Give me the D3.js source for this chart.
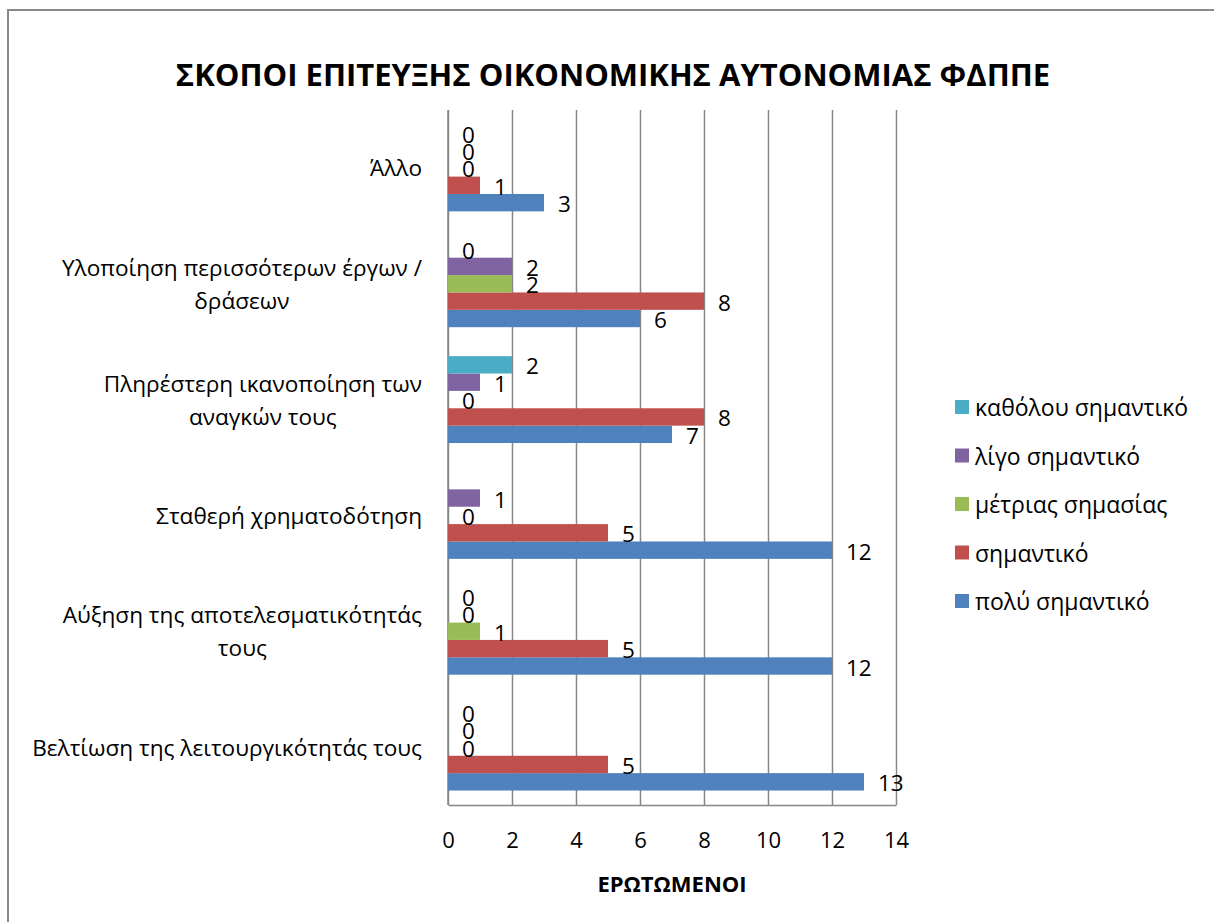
<!DOCTYPE html>
<html>
<head>
<meta charset="utf-8">
<script src="https://cdn.jsdelivr.net/npm/d3@7"></script>
<style>
  body { margin: 0; background: #fff; }
  svg text { font-family: "Open Sans", "Noto Sans", sans-serif; fill: #000; }
</style>
</head>
<body>
<div class="canvas"></div>
<script>
// categories, bottom to top as drawn ("\n" marks the wrap)
const categories = [
  'Βελτίωση της λειτουργικότητάς τους',
  'Αύξηση της αποτελεσματικότητάς\nτους',
  'Σταθερή χρηματοδότηση',
  'Πληρέστερη ικανοποίηση των\nαναγκών τους',
  'Υλοποίηση περισσότερων έργων /\nδράσεων',
  'Άλλο'
];

const seriesNames = ['πολύ σημαντικό', 'σημαντικό', 'μέτριας σημασίας', 'λίγο σημαντικό', 'καθόλου σημαντικό'];
const seriesColours = ['#4F81BD', '#C0504D', '#9BBB59', '#8064A2', '#4BACC6'];

// values per series, same order as categories (null = no value)
const polySimantiko    = [13, 12, 12, 7, 6, 3];
const simantiko        = [5, 5, 5, 8, 8, 1];
const metriasSimasias  = [0, 1, 0, 0, 2, 0];
const ligoSimantiko    = [0, 0, 1, 1, 2, 0];
const katholouSimantiko = [0, 0, null, 2, 0, 0];

const xTicks = [0, 2, 4, 6, 8, 10, 12, 14];

const seriesValues = [polySimantiko, simantiko, metriasSimasias, ligoSimantiko, katholouSimantiko];

const dims = { width: 1214, height: 922 };
const plot = { left: 448, right: 896, top: 110, bottom: 805 };

const svg = d3.select('.canvas')
  .append('svg')
  .attr('width', dims.width)
  .attr('height', dims.height);

// chart border
svg.append('rect')
  .attr('x', 8).attr('y', 10)
  .attr('width', dims.width + 20).attr('height', dims.height + 20)
  .attr('fill', 'none')
  .attr('stroke', '#898989')
  .attr('stroke-width', 2);

svg.append('text')
  .attr('x', 613).attr('y', 74)
  .attr('text-anchor', 'middle')
  .attr('dominant-baseline', 'central')
  .style('font-weight', 'bold')
  .style('font-size', '31px')
  .text('ΣΚΟΠΟΙ ΕΠΙΤΕΥΞΗΣ ΟΙΚΟΝΟΜΙΚΗΣ ΑΥΤΟΝΟΜΙΑΣ ΦΔΠΠΕ');

const x = d3.scaleLinear()
  .domain([0, 14])
  .range([plot.left, plot.right]);

// first category sits at the bottom
const y = d3.scaleBand()
  .domain(categories)
  .range([plot.bottom, plot.top])
  .paddingInner(0.25)
  .paddingOuter(0.125);

// series inside a group, first series lowest
const ySub = d3.scaleBand()
  .domain(d3.range(seriesNames.length))
  .range([y.bandwidth(), 0]);

// gridlines
const grid = svg.append('g')
  .attr('transform', `translate(0, ${plot.bottom})`)
  .call(d3.axisBottom(x).tickValues(xTicks).tickSize(-(plot.bottom - plot.top)).tickFormat(''));
grid.select('.domain').remove();
grid.selectAll('line').attr('stroke', '#878787').attr('stroke-width', 1.5);

// x axis labels
const xAxis = svg.append('g')
  .attr('transform', `translate(0, ${plot.bottom})`)
  .call(d3.axisBottom(x).tickValues(xTicks).tickSize(0).tickPadding(27));
xAxis.select('.domain').attr('stroke', '#878787').attr('stroke-width', 1.5);
xAxis.selectAll('text')
  .style('font-size', '22px')
  .attr('fill', '#000');

// y axis line
svg.append('line')
  .attr('x1', plot.left).attr('x2', plot.left)
  .attr('y1', plot.top).attr('y2', plot.bottom)
  .attr('stroke', '#878787')
  .attr('stroke-width', 1.5);

svg.append('text')
  .attr('x', (plot.left + plot.right) / 2).attr('y', 883)
  .attr('text-anchor', 'middle')
  .attr('dominant-baseline', 'central')
  .style('font-weight', 'bold')
  .style('font-size', '22px')
  .text('ΕΡΩΤΩΜΕΝΟΙ');

// bars + labels
const groups = svg.selectAll('g.cat')
  .data(categories)
  .enter()
  .append('g')
  .attr('class', 'cat')
  .attr('transform', d => `translate(0, ${y(d)})`);

groups.each(function(cat, ci) {
  const g = d3.select(this);
  const rows = seriesValues
    .map((vals, si) => ({ si, v: vals[ci] }))
    .filter(r => r.v !== null);

  g.selectAll('rect')
    .data(rows)
    .enter()
    .append('rect')
    .attr('x', x(0))
    .attr('y', r => ySub(r.si))
    .attr('width', r => x(r.v) - x(0))
    .attr('height', ySub.bandwidth())
    .attr('fill', r => seriesColours[r.si]);

  g.selectAll('text.lbl')
    .data(rows)
    .enter()
    .append('text')
    .attr('class', 'lbl')
    .attr('x', r => x(r.v) + 14)
    .attr('y', r => ySub(r.si) + ySub.bandwidth() / 2 + 1)
    .attr('dominant-baseline', 'central')
    .style('font-size', '22.5px')
    .text(r => r.v);
});

// category labels: lines centred on each other, block right-aligned
const catLabelRight = 422;
const lineGap = 33;
categories.forEach(cat => {
  const lines = cat.split('\n');
  const cy = y(cat) + y.bandwidth() / 2;
  const t = svg.append('g');
  const texts = lines.map((ln, i) => t.append('text')
    .attr('y', cy + (i - (lines.length - 1) / 2) * lineGap)
    .attr('dominant-baseline', 'central')
    .attr('text-anchor', 'middle')
    .style('font-size', '22.6px')
    .text(ln));
  const maxW = d3.max(texts, s => s.node().getComputedTextLength());
  texts.forEach(s => s.attr('x', catLabelRight - maxW / 2));
});

// legend, top entry is last series
const legendItems = d3.range(seriesNames.length).reverse();
const legend = svg.append('g')
  .attr('transform', 'translate(955, 407)');

const li = legend.selectAll('g')
  .data(legendItems)
  .enter()
  .append('g')
  .attr('transform', (d, i) => `translate(0, ${i * 48.5})`);

li.append('rect')
  .attr('x', 0).attr('y', -7)
  .attr('width', 14).attr('height', 14)
  .attr('fill', d => seriesColours[d]);

li.append('text')
  .attr('x', 20)
  .attr('y', 0)
  .attr('dominant-baseline', 'central')
  .style('font-size', '23px')
  .text(d => seriesNames[d]);
</script>
</body>
</html>
